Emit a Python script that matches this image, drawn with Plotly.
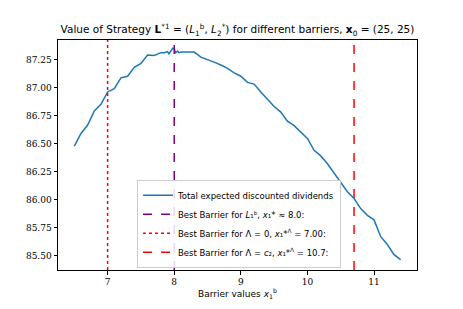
import plotly.graph_objects as go

barriers = [6.5, 6.6, 6.7, 6.8, 6.9, 7.0, 7.1, 7.2, 7.3, 7.4, 7.5, 7.6, 7.7, 7.8,
            7.85, 7.9, 7.92, 7.95, 7.98, 8.0, 8.02, 8.05, 8.07, 8.1,
            8.2, 8.3, 8.4, 8.5, 8.6, 8.7, 8.8, 8.9, 9.0, 9.1, 9.2, 9.3, 9.4, 9.5,
            9.6, 9.7, 9.8, 9.9, 10.0, 10.1, 10.2, 10.3, 10.4, 10.5, 10.6, 10.7,
            10.8, 10.9, 11.0, 11.1, 11.2, 11.3, 11.4]
values = [86.477, 86.59, 86.665, 86.79, 86.85, 86.96, 86.99, 87.086, 87.10, 87.18,
          87.214, 87.29, 87.285, 87.31,
          87.31, 87.32, 87.30, 87.33, 87.35, 87.345, 87.31, 87.325, 87.31, 87.315,
          87.315, 87.315, 87.27, 87.25, 87.226, 87.20, 87.17, 87.13, 87.10, 87.045,
          87.03, 86.96, 86.89, 86.83, 86.78, 86.70, 86.66, 86.60, 86.546, 86.44,
          86.39, 86.32, 86.24, 86.15, 86.07, 86.01, 85.92, 85.86, 85.82, 85.67,
          85.60, 85.51, 85.465]

best_lb = 8.0
best_lambda0 = 7.0
best_lambda_c2 = 10.7

y_range = [85.373, 87.423]
x_range = [6.255, 11.645]
x_ticks = [7, 8, 9, 10, 11]
y_ticks = [85.50, 85.75, 86.00, 86.25, 86.50, 86.75, 87.00, 87.25]

sans = "DejaVu Sans"
serif = "DejaVu Serif"

fig = go.Figure()
fig.add_trace(go.Scatter(x=barriers, y=values, mode="lines",
                         line=dict(color="#1f77b4", width=1.5),
                         name="Total expected discounted dividends"))
fig.add_trace(go.Scatter(x=[best_lb, best_lb], y=y_range, mode="lines",
                         line=dict(color="purple", width=1.5, dash="dash"),
                         name="Best Barrier for <i>L</i>₁ᵇ, <i>x</i>₁* ≈ 8.0:"))
fig.add_trace(go.Scatter(x=[best_lambda0, best_lambda0], y=y_range, mode="lines",
                         line=dict(color="#ff0000", width=1.5, dash="dot"),
                         name="Best Barrier for Λ = 0, <i>x</i>₁*<sup>Λ</sup> = 7.00:"))
fig.add_trace(go.Scatter(x=[best_lambda_c2, best_lambda_c2], y=y_range, mode="lines",
                         line=dict(color="#ff0000", width=1.5, dash="dash"),
                         name="Best Barrier for Λ = <i>c</i>₂, <i>x</i>₁*<sup>Λ</sup> = 10.7:"))

fig.update_layout(
    width=463, height=309,
    margin=dict(l=50, r=54, t=32, b=47),
    paper_bgcolor="white", plot_bgcolor="white",
    title=dict(text="Value of Strategy <b>L</b><sup>*1</sup> = (<i>L</i><sub>1</sub><sup>b</sup>, <i>L</i><sub>2</sub><sup>*</sup>) for different barriers, <b>x</b><sub>0</sub> = (25, 25)",
               x=0.5, xref="paper", xanchor="center",
               yref="container", y=0.93, yanchor="middle",
               font=dict(family=sans, size=10.5, color="black")),
    showlegend=True,
    legend=dict(x=0.22, y=0.01, xanchor="left", yanchor="bottom",
                bgcolor="rgba(255,255,255,0.85)", bordercolor="#cccccc", borderwidth=1,
                font=dict(family=sans, size=8.5, color="black"),
                tracegroupgap=0, itemwidth=30),
    xaxis=dict(range=x_range, tickvals=x_ticks, ticktext=[str(t) for t in x_ticks],
               showgrid=False, zeroline=False, showline=True, linecolor="black",
               linewidth=1, mirror=True, ticks="outside", ticklen=3.5, tickcolor="black",
               tickfont=dict(family=serif, size=9, color="black"),
               title=dict(text="Barrier values <i>x</i><sub>1</sub><sup>b</sup>",
                          font=dict(family=sans, size=9, color="black"), standoff=4)),
    yaxis=dict(range=y_range, tickvals=y_ticks, ticktext=[f"{t:.2f}" for t in y_ticks],
               showgrid=False, zeroline=False, showline=True, linecolor="black",
               linewidth=1, mirror=True, ticks="outside", ticklen=3.5, tickcolor="black",
               tickfont=dict(family=serif, size=9, color="black")),
)

fig.write_html("out.html")
